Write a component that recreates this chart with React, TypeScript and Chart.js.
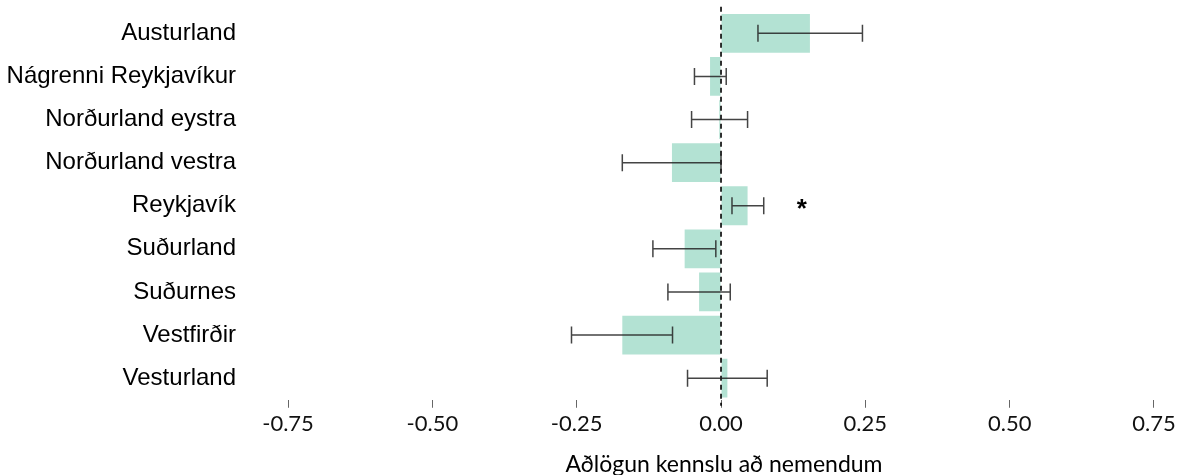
import React, { useEffect, useRef } from 'react';
import { Chart, registerables } from 'chart.js';

Chart.register(...registerables);

const regions = [
  'Austurland',
  'Nágrenni Reykjavíkur',
  'Norðurland eystra',
  'Norðurland vestra',
  'Reykjavík',
  'Suðurland',
  'Suðurnes',
  'Vestfirðir',
  'Vesturland',
];
const estimates = [0.154, -0.019, -0.003, -0.085, 0.046, -0.063, -0.038, -0.171, 0.011];
const ciLower = [0.064, -0.046, -0.051, -0.171, 0.019, -0.118, -0.092, -0.259, -0.058];
const ciUpper = [0.245, 0.009, 0.046, 0.0, 0.074, -0.009, 0.016, -0.084, 0.08];
const significance = ['', '', '', '', '*', '', '', '', ''];
const significancePos = [0, 0, 0, 0, 0.14, 0, 0, 0, 0];
const xTicks = [-0.75, -0.5, -0.25, 0, 0.25, 0.5, 0.75];
const xTitle = 'Aðlögun kennslu að nemendum';

const overlay = {
  id: 'overlay',
  afterDatasetsDraw(chart: any) {
    const { ctx, chartArea } = chart;
    const x = chart.scales.x;
    const y = chart.scales.y;
    ctx.save();
    // dashed zero line
    const x0 = x.getPixelForValue(0);
    ctx.strokeStyle = '#000';
    ctx.lineWidth = 1.6;
    ctx.setLineDash([5, 4]);
    ctx.beginPath();
    ctx.moveTo(x0, chartArea.top - 5);
    ctx.lineTo(x0, chartArea.bottom + 6);
    ctx.stroke();
    ctx.setLineDash([]);
    // error bars
    ctx.strokeStyle = 'rgba(35,35,35,0.85)';
    ctx.lineWidth = 1.5;
    regions.forEach((_, i) => {
      const yc = y.getPixelForValue(i);
      const xl = x.getPixelForValue(ciLower[i]);
      const xh = x.getPixelForValue(ciUpper[i]);
      ctx.beginPath();
      ctx.moveTo(xl, yc);
      ctx.lineTo(xh, yc);
      ctx.moveTo(xl, yc - 8.5);
      ctx.lineTo(xl, yc + 8.5);
      ctx.moveTo(xh, yc - 8.5);
      ctx.lineTo(xh, yc + 8.5);
      ctx.stroke();
    });
    // significance markers
    ctx.fillStyle = '#000';
    ctx.font = 'bold 26px "Liberation Sans"';
    ctx.textAlign = 'center';
    ctx.textBaseline = 'alphabetic';
    significance.forEach((s, i) => {
      if (!s) return;
      const m = ctx.measureText(s);
      const yc = y.getPixelForValue(i) - 2;
      ctx.fillText(
        s,
        x.getPixelForValue(significancePos[i]),
        yc + (m.actualBoundingBoxAscent - m.actualBoundingBoxDescent) / 2
      );
    });
    // axis title
    ctx.font = '23px Lato';
    ctx.fillStyle = '#000';
    ctx.textAlign = 'center';
    ctx.textBaseline = 'alphabetic';
    const mid = (xTicks[0] + xTicks[xTicks.length - 1]) / 2;
    ctx.fillText(xTitle, x.getPixelForValue(mid) + 3, chart.height - 3);
    ctx.restore();
  },
};

export default function App() {
  const canvasRef = useRef<HTMLCanvasElement | null>(null);

  useEffect(() => {
    if (!canvasRef.current) return;
    const chart = new Chart(canvasRef.current, {
      type: 'bar',
      data: {
        labels: regions,
        datasets: [
          {
            data: estimates,
            backgroundColor: '#b3e2d3',
            borderWidth: 0,
            categoryPercentage: 0.9,
            barPercentage: 1,
          },
        ],
      },
      options: {
        indexAxis: 'y',
        animation: false,
        responsive: true,
        maintainAspectRatio: false,
        layout: { padding: { top: 11.75, right: 10, left: 0, bottom: 0 } },
        plugins: {
          legend: { display: false },
          tooltip: { enabled: false },
        },
        scales: {
          x: {
            type: 'linear',
            min: -0.8315,
            max: 0.7864,
            grid: {
              display: true,
              drawOnChartArea: false,
              drawTicks: true,
              tickLength: 8,
              color: '#666',
              lineWidth: 1,
            },
            border: { display: false },
            ticks: {
              padding: 3,
              color: '#111',
              font: { family: 'Lato', size: 22 },
              callback: (v: any) => Number(v).toFixed(2),
            },
            afterBuildTicks: (s: any) => {
              s.ticks = xTicks.map((v) => ({ value: v }));
            },
            afterFit: (s: any) => {
              s.height = 475 - 399.75;
              s.paddingLeft = 0;
              s.paddingRight = 0;
            },
          },
          y: {
            type: 'category',
            grid: { display: false, drawTicks: false },
            border: { display: false },
            ticks: {
              padding: 5,
              color: '#000',
              autoSkip: false,
              font: { family: '"Liberation Sans"', size: 24 },
            },
            afterFit: (s: any) => {
              s.width = 241;
              s.paddingTop = 0;
              s.paddingBottom = 0;
            },
          },
        },
      } as any,
      plugins: [overlay],
    });
    return () => chart.destroy();
  }, []);

  return (
    <div style={{ position: 'fixed', left: 0, top: 0, width: 1185, height: 475, background: '#fff' }}>
      <canvas ref={canvasRef} />
    </div>
  );
}
